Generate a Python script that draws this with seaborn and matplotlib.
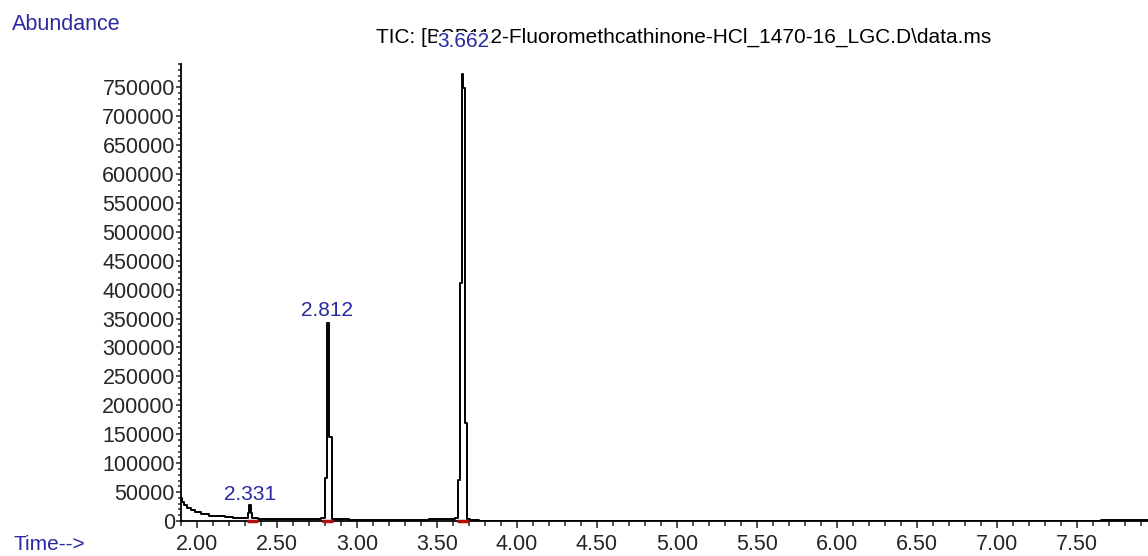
import numpy as np
import pandas as pd
import matplotlib
matplotlib.use('Agg')
import matplotlib.pyplot as plt
import seaborn as sns
from matplotlib.ticker import MultipleLocator, FuncFormatter

# TIC trace (time in min, abundance)
time = [1.900, 1.910, 1.925, 1.950, 1.975, 2.000, 2.050, 2.100, 2.150, 2.200,
        2.250, 2.300, 2.315, 2.323, 2.331, 2.339, 2.347, 2.360, 2.400, 2.450,
        2.500, 2.600, 2.700, 2.760, 2.795, 2.805, 2.817, 2.832, 2.850, 2.900,
        3.000, 3.100, 3.200, 3.300, 3.400, 3.500, 3.600, 3.628, 3.640, 3.653,
        3.662, 3.669, 3.680, 3.692, 3.720, 3.800, 4.000, 4.500, 5.000, 5.500,
        6.000, 6.500, 7.000, 7.500, 7.800, 7.950]
abundance = [40000, 33000, 27000, 22000, 18500, 15500, 12000, 9500, 8000, 6800,
             6000, 5000, 6000, 14000, 27600, 13000, 5500, 4500, 4000, 3800,
             3500, 3200, 3000, 3000, 5000, 74000, 343000, 145000, 4000, 3000,
             2500, 2000, 1800, 1600, 2500, 3000, 3500, 5000, 71000, 412000,
             772000, 748000, 169000, 4000, 2000, 800, 600, 500, 500, 500,
             500, 500, 500, 500, 1500, 1500]

# integrated peaks
peak_rt = [2.331, 2.812, 3.662]
peak_top = [27600, 343000, 772000]
integ_start = [2.31, 2.78, 3.625]
integ_end = [2.38, 2.85, 3.70]

title = 'TIC: [BSP112-Fluoromethcathinone-HCl_1470-16_LGC.D\\data.ms'

df = pd.DataFrame({'Time': time, 'Abundance': abundance})

sns.set_style('ticks')
plt.rcParams['font.family'] = ['Liberation Sans', 'DejaVu Sans']

blue = '#2a2aa0'
W, H = 1148, 556
fig = plt.figure(figsize=(W / 100, H / 100), dpi=100)
ax = fig.add_axes([181 / W, 35 / H, 1 - 181 / W, 457 / H])
ax.set_zorder(2)  # so the peak label sits above the title text

sns.lineplot(data=df, x='Time', y='Abundance', color='black', lw=1.4,
             drawstyle='steps-mid', estimator=None, ax=ax)

# red integration baselines
for s, e in zip(integ_start, integ_end):
    ax.plot([s, e], [0, 0], color='#b01010', lw=2.5, clip_on=False,
            solid_capstyle='butt', zorder=5)

# peak labels (opaque, so the top one hides part of the title like the original)
offs = [1, 2, 17]
for rt, top, o in zip(peak_rt, peak_top, offs):
    ax.annotate(f'{rt:.3f}', (rt, top), xytext=(0, o), textcoords='offset points',
                ha='center', va='bottom', color=blue, fontsize=15, zorder=6,
                annotation_clip=False,
                bbox=dict(facecolor='white', edgecolor='none', pad=0))

ax.set_xlim(1.9, 1.9 + (W - 181) / 160)
ax.set_ylim(0, 790000)
ax.set_xlabel('')
ax.set_ylabel('')

ax.xaxis.set_major_locator(MultipleLocator(0.5))
ax.xaxis.set_minor_locator(MultipleLocator(0.1))
ax.yaxis.set_major_locator(MultipleLocator(50000))
ax.yaxis.set_minor_locator(MultipleLocator(10000))
ax.xaxis.set_major_formatter(FuncFormatter(lambda v, p: f'{v:.2f}'))
ax.yaxis.set_major_formatter(FuncFormatter(lambda v, p: f'{int(round(v))}'))

ax.tick_params(axis='x', which='major', length=5, width=1.1, pad=4, labelsize=15.5, direction='out')
ax.tick_params(axis='x', which='minor', length=3.5, width=1.1, direction='out')
ax.tick_params(axis='y', which='major', length=3.5, width=1.1, pad=1, labelsize=15.5, direction='out')
ax.tick_params(axis='y', which='minor', length=2.5, width=1.1, direction='out')

sns.despine(ax=ax)
for sp in ['left', 'bottom']:
    ax.spines[sp].set_linewidth(1.3)
    ax.spines[sp].set_color('black')

fig.text(12 / W, 1 - 25 / H, 'Abundance', color=blue, fontsize=15.5, ha='left', va='center')
fig.text(13 / W, 1 - 545 / H, 'Time-->', color=blue, fontsize=15, ha='left', va='center')
fig.text(376 / W, 1 - 37 / H, title, color='black', fontsize=15, ha='left', va='center', zorder=1)

fig.savefig('out.png', dpi=100)
